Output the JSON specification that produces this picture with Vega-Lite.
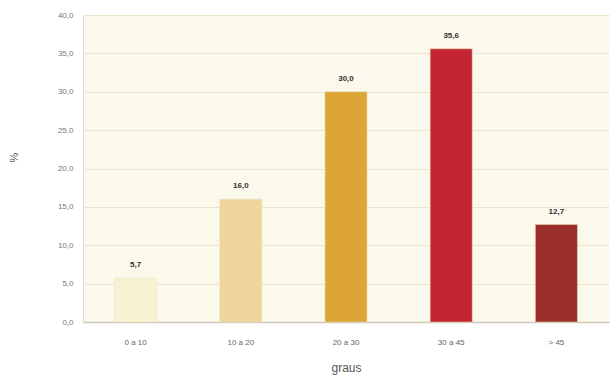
{
  "$schema": "https://vega.github.io/schema/vega-lite/v6.json",
  "width": 526,
  "height": 307,
  "autosize": {"type": "none"},
  "padding": {"left": 83, "top": 15, "right": 2, "bottom": 54},
  "background": "#ffffff",
  "config": {
    "locale": {"number": {"decimal": ",", "thousands": ".", "grouping": [3], "currency": ["", " €"]}},
    "view": {"fill": "#fbf8ec", "stroke": null},
    "font": "Liberation Sans"
  },
  "data": {
    "values": [
      {"graus": "0 a 10", "pct": 5.7},
      {"graus": "10 a 20", "pct": 16.0},
      {"graus": "20 a 30", "pct": 30.0},
      {"graus": "30 a 45", "pct": 35.6},
      {"graus": "> 45", "pct": 12.7}
    ]
  },
  "encoding": {
    "x": {
      "field": "graus", "type": "nominal", "sort": null,
      "scale": {"paddingInner": 0.6, "paddingOuter": 0.3},
      "axis": {
        "title": "graus", "titleFontSize": 12, "titleFontWeight": "normal", "titleColor": "#555555", "titlePadding": 16,
        "labelAngle": 0, "labelFontSize": 8, "labelColor": "#666666", "labelPadding": 16,
        "ticks": false, "domainColor": "#cfcab8", "domainWidth": 1.5
      }
    },
    "y": {
      "field": "pct", "type": "quantitative",
      "scale": {"domain": [0, 40], "nice": false},
      "axis": {
        "title": "%", "titleFontSize": 11, "titleFontWeight": "normal", "titleColor": "#555555", "titlePadding": 38, "titleY": 142,
        "values": [0, 5, 10, 15, 20, 25, 30, 35, 40], "format": ".1f",
        "labelFontSize": 8, "labelColor": "#777777", "labelPadding": 10,
        "ticks": false, "domainColor": "#e0dccb",
        "gridColor": "#ebe5d0", "gridWidth": 1.2
      }
    }
  },
  "layer": [
    {
      "mark": {"type": "bar"},
      "encoding": {
        "color": {
          "field": "graus", "type": "nominal", "sort": null, "legend": null,
          "scale": {
            "domain": ["0 a 10", "10 a 20", "20 a 30", "30 a 45", "> 45"],
            "range": ["#f6f2d2", "#efd49c", "#dca536", "#c32533", "#9b2d2b"]
          }
        },
        "stroke": {"value": "#e8e2bf"},
        "strokeWidth": {"value": 0.5}
      }
    },
    {
      "mark": {"type": "text", "dy": -13, "fontSize": 8, "fontWeight": "bold", "color": "#333333"},
      "encoding": {
        "text": {"field": "pct", "type": "quantitative", "format": ".1f"}
      }
    }
  ]
}
